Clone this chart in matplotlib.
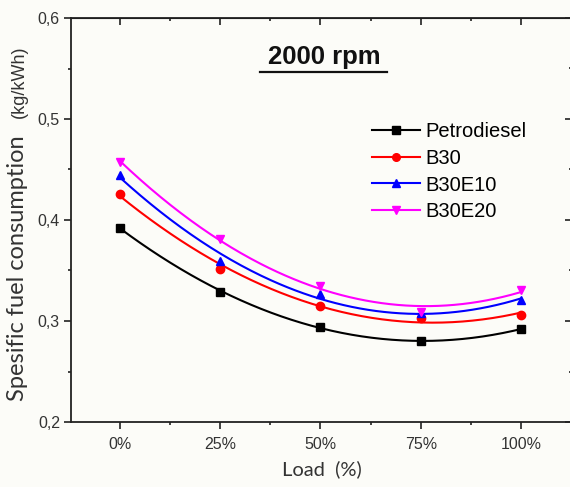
import matplotlib.pyplot as plt
import numpy as np
from matplotlib.ticker import MultipleLocator, FuncFormatter

# engine load (%) and specific fuel consumption (kg/kWh) at 2000 rpm
load = [0, 25, 50, 75, 100]
load_labels = ['0%', '25%', '50%', '75%', '100%']
petrodiesel = [0.392, 0.329, 0.294, 0.280, 0.292]
b30 = [0.426, 0.351, 0.315, 0.303, 0.306]
b30e10 = [0.445, 0.359, 0.327, 0.308, 0.321]
b30e20 = [0.457, 0.381, 0.335, 0.309, 0.331]

series = [
    ('Petrodiesel', petrodiesel, 'black', 's'),
    ('B30', b30, '#ff0000', 'o'),
    ('B30E10', b30e10, '#0000ff', '^'),
    ('B30E20', b30e20, '#ff00ff', 'v'),
]

plt.rcParams['font.family'] = ['Liberation Sans', 'DejaVu Sans']

fig = plt.figure(figsize=(5.7, 4.87), dpi=100)
fig.patch.set_facecolor('#fcfcf8')
ax = fig.add_axes([71 / 570, 65 / 487, 501 / 570, 404 / 487])
ax.set_facecolor('#fcfcf8')

x = np.array(load, dtype=float)
xs = np.linspace(0, 100, 200)
for name, vals, col, mk in series:
    # smooth 2nd order fit, as in the original figure
    coef = np.polyfit(x, vals, 2)
    ax.plot(xs, np.polyval(coef, xs), color=col, lw=1.5)
    ax.plot(x, vals, linestyle='none', marker=mk, color=col, ms=6)
    # legend proxy
    ax.plot([], [], color=col, lw=1.5, marker=mk, ms=5.5, label=name)

ax.set_xlim(-12.25, 112.75)
ax.set_ylim(0.2, 0.6)
ax.set_xticks(load)
ax.set_xticklabels(load_labels)
ax.xaxis.set_minor_locator(MultipleLocator(12.5))
ax.yaxis.set_major_locator(MultipleLocator(0.1))
ax.yaxis.set_minor_locator(MultipleLocator(0.05))
ax.yaxis.set_major_formatter(FuncFormatter(lambda v, p: ('%.1f' % v).replace('.', ',')))

ax.tick_params(which='both', direction='out', top=False, right=False,
               labelsize=11.5, labelcolor='#333333', color='#222222', width=1.2)
ax.tick_params(which='major', length=5)
ax.tick_params(which='minor', length=2.5)
ax.tick_params(axis='x', pad=6)
ax.tick_params(axis='y', pad=3)
sec_x = ax.secondary_xaxis('top')
sec_x.set_xticks(load)
sec_x.xaxis.set_minor_locator(MultipleLocator(12.5))
sec_x.tick_params(which='both', direction='in', labeltop=False, width=1.2, color='#222222')
sec_x.tick_params(which='major', length=5)
sec_x.tick_params(which='minor', length=2.5)
sec_y = ax.secondary_yaxis('right')
sec_y.yaxis.set_major_locator(MultipleLocator(0.1))
sec_y.yaxis.set_minor_locator(MultipleLocator(0.05))
sec_y.tick_params(which='both', direction='in', labelright=False, width=1.2, color='#222222')
sec_y.tick_params(which='major', length=5)
sec_y.tick_params(which='minor', length=2.5)
for sp in ax.spines.values():
    sp.set_linewidth(1.3)
    sp.set_color('#222222')

ax.set_xlabel('Load  (%)', family=['Lato', 'DejaVu Sans'], fontsize=14.5,
              color='#333333', labelpad=6)
# y label: name and unit were set in two different fonts in the original
fig.text(18 / 570, 1 - 268 / 487, 'Spesific fuel consumption', family=['Lato', 'DejaVu Sans'],
         fontsize=17, color='#333333', rotation=90, ha='center', va='center')
fig.text(19 / 570, 1 - 82 / 487, '(kg/kWh)', fontsize=13, color='#333333',
         rotation=90, ha='center', va='center')

ax.text(0.505, 0.903, '2000 rpm', transform=ax.transAxes, fontsize=18.5,
        fontweight='bold', ha='center', va='center', color='#111111')
ax.plot([0.377, 0.631], [0.866, 0.866], transform=ax.transAxes, color='#111111', lw=1.6)

ax.legend(loc='upper left', bbox_to_anchor=(0.601, 0.742), frameon=False, fontsize=14.5,
          handlelength=2.4, handletextpad=0.25, labelspacing=0.38, borderaxespad=0,
          borderpad=0)

fig.savefig('out.png', dpi=100, facecolor=fig.get_facecolor())
